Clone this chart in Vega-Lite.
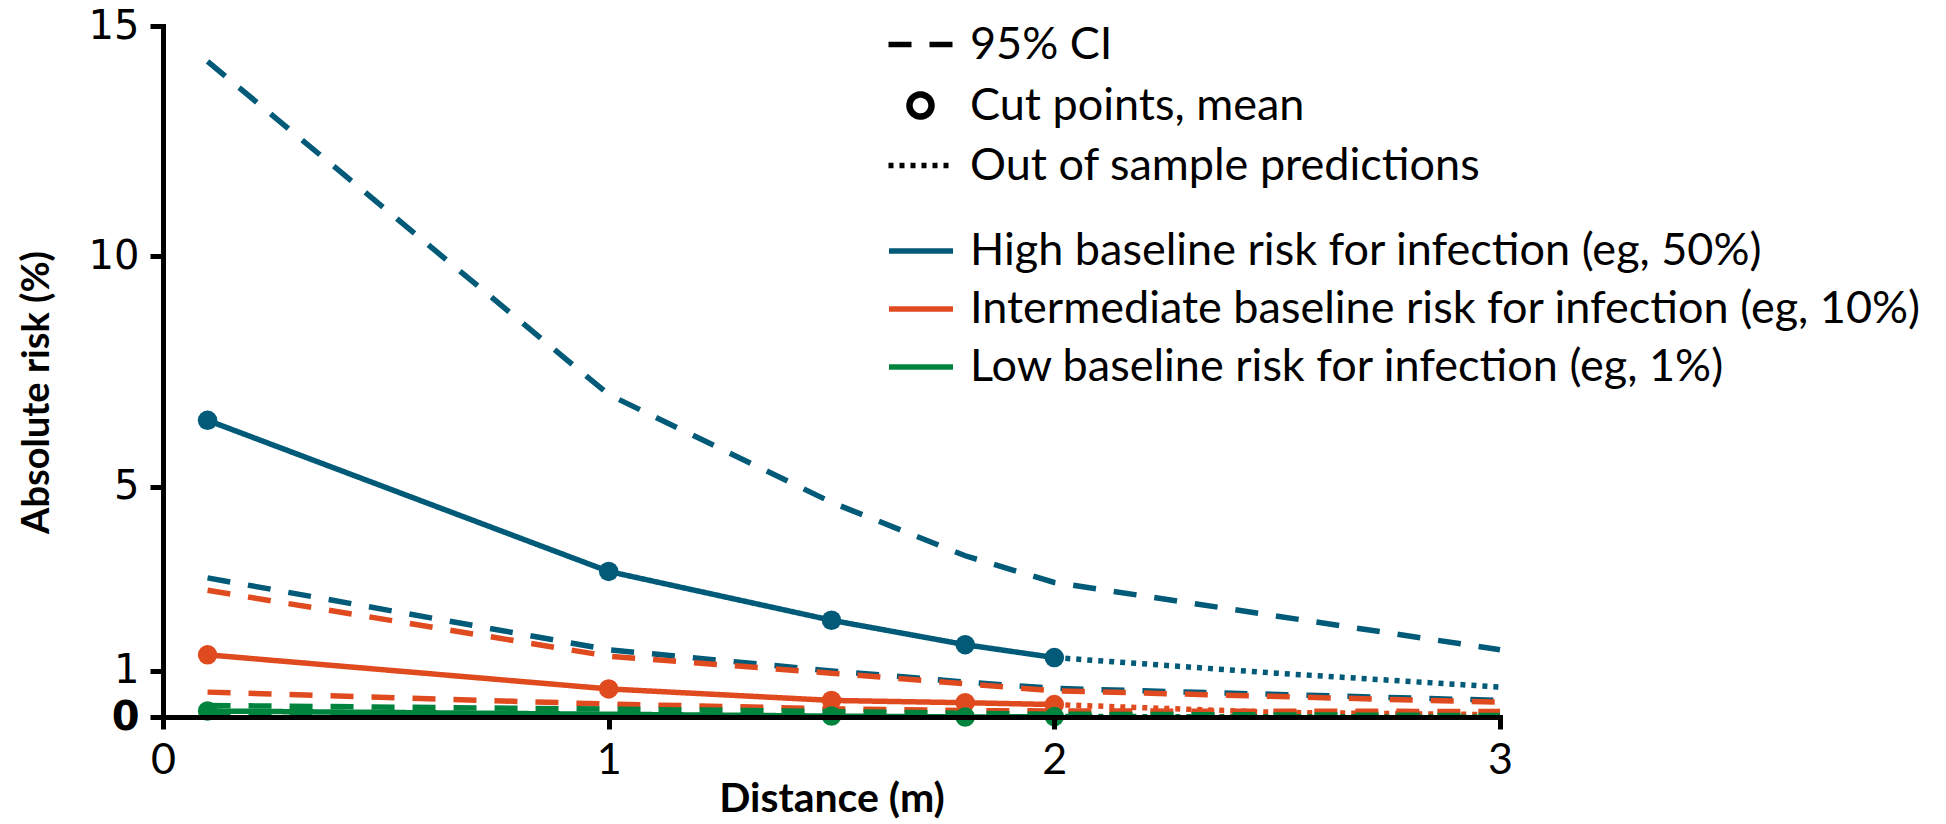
{
  "$schema": "https://vega.github.io/schema/vega-lite/v6.json",
  "width": 1337,
  "height": 691,
  "autosize": {"type": "none"},
  "padding": {"left": 163, "top": 26, "right": 446, "bottom": 107},
  "background": "white",
  "config": {"view": {"stroke": null}, "font": "Lato"},
  "data": {
    "values": [
      {"group": "High baseline risk for infection (eg, 50%)", "kind": "95% CI", "series": "H-upper", "x": 0.1, "y": 14.23},
      {"group": "High baseline risk for infection (eg, 50%)", "kind": "95% CI", "series": "H-upper", "x": 1, "y": 7.0},
      {"group": "High baseline risk for infection (eg, 50%)", "kind": "95% CI", "series": "H-upper", "x": 1.5, "y": 4.66},
      {"group": "High baseline risk for infection (eg, 50%)", "kind": "95% CI", "series": "H-upper", "x": 1.8, "y": 3.5},
      {"group": "High baseline risk for infection (eg, 50%)", "kind": "95% CI", "series": "H-upper", "x": 2, "y": 2.92},
      {"group": "High baseline risk for infection (eg, 50%)", "kind": "95% CI", "series": "H-upper", "x": 3, "y": 1.46},
      {"group": "High baseline risk for infection (eg, 50%)", "kind": "95% CI", "series": "H-lower", "x": 0.1, "y": 3.02},
      {"group": "High baseline risk for infection (eg, 50%)", "kind": "95% CI", "series": "H-lower", "x": 1, "y": 1.46},
      {"group": "High baseline risk for infection (eg, 50%)", "kind": "95% CI", "series": "H-lower", "x": 1.5, "y": 1.0},
      {"group": "High baseline risk for infection (eg, 50%)", "kind": "95% CI", "series": "H-lower", "x": 1.8, "y": 0.76},
      {"group": "High baseline risk for infection (eg, 50%)", "kind": "95% CI", "series": "H-lower", "x": 2, "y": 0.62},
      {"group": "High baseline risk for infection (eg, 50%)", "kind": "95% CI", "series": "H-lower", "x": 3, "y": 0.36},
      {"group": "High baseline risk for infection (eg, 50%)", "kind": "Cut points, mean", "series": "H-mean", "x": 0.1, "y": 6.44},
      {"group": "High baseline risk for infection (eg, 50%)", "kind": "Cut points, mean", "series": "H-mean", "x": 1, "y": 3.16},
      {"group": "High baseline risk for infection (eg, 50%)", "kind": "Cut points, mean", "series": "H-mean", "x": 1.5, "y": 2.1},
      {"group": "High baseline risk for infection (eg, 50%)", "kind": "Cut points, mean", "series": "H-mean", "x": 1.8, "y": 1.57},
      {"group": "High baseline risk for infection (eg, 50%)", "kind": "Cut points, mean", "series": "H-mean", "x": 2, "y": 1.29},
      {"group": "High baseline risk for infection (eg, 50%)", "kind": "Out of sample predictions", "series": "H-oos", "x": 2, "y": 1.29},
      {"group": "High baseline risk for infection (eg, 50%)", "kind": "Out of sample predictions", "series": "H-oos", "x": 2.5, "y": 0.95},
      {"group": "High baseline risk for infection (eg, 50%)", "kind": "Out of sample predictions", "series": "H-oos", "x": 3, "y": 0.65},
      {"group": "Intermediate baseline risk for infection (eg, 10%)", "kind": "95% CI", "series": "I-upper", "x": 0.1, "y": 2.75},
      {"group": "Intermediate baseline risk for infection (eg, 10%)", "kind": "95% CI", "series": "I-upper", "x": 1, "y": 1.32},
      {"group": "Intermediate baseline risk for infection (eg, 10%)", "kind": "95% CI", "series": "I-upper", "x": 1.5, "y": 0.95},
      {"group": "Intermediate baseline risk for infection (eg, 10%)", "kind": "95% CI", "series": "I-upper", "x": 1.8, "y": 0.72},
      {"group": "Intermediate baseline risk for infection (eg, 10%)", "kind": "95% CI", "series": "I-upper", "x": 2, "y": 0.57},
      {"group": "Intermediate baseline risk for infection (eg, 10%)", "kind": "95% CI", "series": "I-upper", "x": 3, "y": 0.32},
      {"group": "Intermediate baseline risk for infection (eg, 10%)", "kind": "95% CI", "series": "I-lower", "x": 0.1, "y": 0.54},
      {"group": "Intermediate baseline risk for infection (eg, 10%)", "kind": "95% CI", "series": "I-lower", "x": 1, "y": 0.28},
      {"group": "Intermediate baseline risk for infection (eg, 10%)", "kind": "95% CI", "series": "I-lower", "x": 1.5, "y": 0.18},
      {"group": "Intermediate baseline risk for infection (eg, 10%)", "kind": "95% CI", "series": "I-lower", "x": 1.8, "y": 0.14},
      {"group": "Intermediate baseline risk for infection (eg, 10%)", "kind": "95% CI", "series": "I-lower", "x": 2, "y": 0.13},
      {"group": "Intermediate baseline risk for infection (eg, 10%)", "kind": "95% CI", "series": "I-lower", "x": 3, "y": 0.12},
      {"group": "Intermediate baseline risk for infection (eg, 10%)", "kind": "Cut points, mean", "series": "I-mean", "x": 0.1, "y": 1.35},
      {"group": "Intermediate baseline risk for infection (eg, 10%)", "kind": "Cut points, mean", "series": "I-mean", "x": 1, "y": 0.61},
      {"group": "Intermediate baseline risk for infection (eg, 10%)", "kind": "Cut points, mean", "series": "I-mean", "x": 1.5, "y": 0.36},
      {"group": "Intermediate baseline risk for infection (eg, 10%)", "kind": "Cut points, mean", "series": "I-mean", "x": 1.8, "y": 0.31},
      {"group": "Intermediate baseline risk for infection (eg, 10%)", "kind": "Cut points, mean", "series": "I-mean", "x": 2, "y": 0.27},
      {"group": "Intermediate baseline risk for infection (eg, 10%)", "kind": "Out of sample predictions", "series": "I-oos", "x": 2, "y": 0.27},
      {"group": "Intermediate baseline risk for infection (eg, 10%)", "kind": "Out of sample predictions", "series": "I-oos", "x": 2.5, "y": 0.1},
      {"group": "Intermediate baseline risk for infection (eg, 10%)", "kind": "Out of sample predictions", "series": "I-oos", "x": 3, "y": 0.05},
      {"group": "Low baseline risk for infection (eg, 1%)", "kind": "95% CI", "series": "L-upper", "x": 0.1, "y": 0.25},
      {"group": "Low baseline risk for infection (eg, 1%)", "kind": "95% CI", "series": "L-upper", "x": 1, "y": 0.17},
      {"group": "Low baseline risk for infection (eg, 1%)", "kind": "95% CI", "series": "L-upper", "x": 1.5, "y": 0.12},
      {"group": "Low baseline risk for infection (eg, 1%)", "kind": "95% CI", "series": "L-upper", "x": 1.8, "y": 0.08},
      {"group": "Low baseline risk for infection (eg, 1%)", "kind": "95% CI", "series": "L-upper", "x": 2, "y": 0.06},
      {"group": "Low baseline risk for infection (eg, 1%)", "kind": "95% CI", "series": "L-upper", "x": 3, "y": 0.03},
      {"group": "Low baseline risk for infection (eg, 1%)", "kind": "95% CI", "series": "L-lower", "x": 0.1, "y": 0.04},
      {"group": "Low baseline risk for infection (eg, 1%)", "kind": "95% CI", "series": "L-lower", "x": 1, "y": 0.02},
      {"group": "Low baseline risk for infection (eg, 1%)", "kind": "95% CI", "series": "L-lower", "x": 1.5, "y": 0.01},
      {"group": "Low baseline risk for infection (eg, 1%)", "kind": "95% CI", "series": "L-lower", "x": 1.8, "y": 0.0},
      {"group": "Low baseline risk for infection (eg, 1%)", "kind": "95% CI", "series": "L-lower", "x": 2, "y": 0.0},
      {"group": "Low baseline risk for infection (eg, 1%)", "kind": "95% CI", "series": "L-lower", "x": 3, "y": 0.0},
      {"group": "Low baseline risk for infection (eg, 1%)", "kind": "Cut points, mean", "series": "L-mean", "x": 0.1, "y": 0.13},
      {"group": "Low baseline risk for infection (eg, 1%)", "kind": "Cut points, mean", "series": "L-mean", "x": 1.5, "y": 0.02},
      {"group": "Low baseline risk for infection (eg, 1%)", "kind": "Cut points, mean", "series": "L-mean", "x": 1.8, "y": 0.0},
      {"group": "Low baseline risk for infection (eg, 1%)", "kind": "Cut points, mean", "series": "L-mean", "x": 2, "y": 0.01},
      {"group": "Low baseline risk for infection (eg, 1%)", "kind": "Out of sample predictions", "series": "L-oos", "x": 2, "y": 0.01},
      {"group": "Low baseline risk for infection (eg, 1%)", "kind": "Out of sample predictions", "series": "L-oos", "x": 3, "y": 0.0}
    ]
  },
  "layer": [
    {
      "mark": {"type": "line", "strokeWidth": 5.5, "clip": false},
      "encoding": {
        "x": {
          "field": "x", "type": "quantitative",
          "scale": {"domain": [0, 3], "nice": false, "zero": false},
          "axis": {
            "values": [0, 1, 2, 3], "format": "d", "title": "Distance (m)", "grid": false,
            "domainColor": "black", "domainWidth": 5, "domainCap": "square",
            "tickColor": "black", "tickWidth": 5, "tickSize": 12,
            "labelFont": "Lato", "labelFontSize": 43, "labelColor": "black", "labelPadding": 10,
            "labelFlush": false, "labelOverlap": false,
            "titleFont": "Lato", "titleFontSize": 41, "titleFontWeight": "bold", "titleColor": "black",
            "titlePadding": -3, "zindex": 1
          }
        },
        "y": {
          "field": "y", "type": "quantitative",
          "scale": {"domain": [0, 15], "nice": false},
          "axis": {
            "values": [0, 1, 5, 10, 15], "title": "Absolute risk (%)", "grid": false,
            "domainColor": "black", "domainWidth": 5, "domainCap": "square",
            "tickColor": "black", "tickWidth": 5, "tickSize": 13,
            "labelFont": "DejaVu Sans", "labelFontSize": 40, "labelColor": "black", "labelPadding": 11,
            "labelFontWeight": {"condition": {"test": "datum.value === 0", "value": "bold"}, "value": "normal"},
            "labelFlush": false, "labelOverlap": false,
            "titleFont": "Lato", "titleFontSize": 38, "titleFontWeight": "bold", "titleColor": "black",
            "titleX": -126, "titleY": 366, "titleBaseline": "middle", "titleAngle": 270, "zindex": 1
          }
        },
        "color": {
          "field": "group", "type": "nominal",
          "scale": {
            "domain": ["High baseline risk for infection (eg, 50%)", "Intermediate baseline risk for infection (eg, 10%)", "Low baseline risk for infection (eg, 1%)"],
            "range": ["#005a78", "#e04a1f", "#00843d"]
          },
          "legend": {
            "title": null, "orient": "none", "legendX": 723, "legendY": 190,
            "symbolType": "stroke", "symbolSize": 4096, "symbolStrokeWidth": 5.5,
            "labelFont": "Lato", "labelFontSize": 45, "labelColor": "black", "labelLimit": 0,
            "labelOffset": 14, "rowPadding": -7, "padding": 0
          }
        },
        "strokeDash": {
          "field": "kind", "type": "nominal",
          "scale": {
            "domain": ["95% CI", "Cut points, mean", "Out of sample predictions"],
            "range": [[23, 18], [1, 0], [5, 6]]
          },
          "legend": {
            "title": null, "orient": "none", "legendX": 735, "legendY": -4,
            "symbolType": "stroke", "symbolSize": 4096, "symbolStrokeWidth": 5.5, "symbolStrokeColor": "black",
            "labelFont": "Lato", "labelFontSize": 45, "labelColor": "black", "labelLimit": 0,
            "labelOffset": 27, "rowPadding": 13, "padding": 0,
            "encode": {
              "symbols": {
                "update": {
                  "shape": {"signal": "datum.value === 'Cut points, mean' ? 'circle' : 'stroke'"},
                  "size": {"signal": "datum.value === 'Cut points, mean' ? 484 : 4096"},
                  "strokeWidth": {"signal": "datum.value === 'Cut points, mean' ? 6.5 : 5.5"},
                  "fill": {"value": "transparent"},
                  "stroke": {"value": "black"}
                }
              }
            }
          }
        },
        "detail": {"field": "series", "type": "nominal"},
        "order": {"field": "x", "type": "quantitative"}
      }
    },
    {
      "transform": [{"filter": "datum.kind === 'Cut points, mean'"}],
      "mark": {"type": "circle", "size": 380, "opacity": 1, "clip": false},
      "encoding": {
        "x": {"field": "x", "type": "quantitative"},
        "y": {"field": "y", "type": "quantitative"},
        "fill": {
          "field": "group", "type": "nominal",
          "scale": {
            "domain": ["High baseline risk for infection (eg, 50%)", "Intermediate baseline risk for infection (eg, 10%)", "Low baseline risk for infection (eg, 1%)"],
            "range": ["#005a78", "#e04a1f", "#00843d"]
          },
          "legend": null
        }
      }
    }
  ]
}
